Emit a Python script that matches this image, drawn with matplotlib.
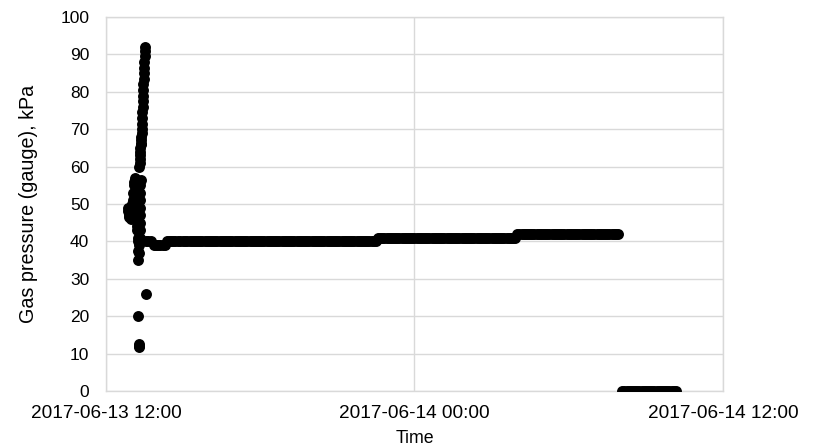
import pandas as pd
import matplotlib
matplotlib.use("Agg")
import matplotlib.pyplot as plt
import matplotlib.dates as mdates

plt.rcParams["font.family"] = ["Liberation Sans", "DejaVu Sans"]

# pressure readings around the filling spike: minutes after 12:00, kPa
spike_min = [51, 52, 53, 54, 55, 56, 57, 58, 59, 60, 61, 62,
             63, 64, 65, 66, 67, 68, 69, 70, 71,
             73, 74, 74.5, 75, 75.5, 76,
             76.5, 77, 77.5, 78, 78.3, 78.6, 79, 79.3, 79.6, 80, 80.3, 80.6, 81,
             72, 72.5, 73.5, 74.2,
             78, 78.5, 79, 79.5, 80, 80.5, 81, 81.5, 82, 82.5, 83,
             83.5, 84, 84.5, 85, 85.5, 86, 86.5, 87, 87.5, 88, 88.5, 89, 89.5, 90, 90.5, 91,
             93]
spike_val = [49, 48, 47, 46.5, 48, 49, 47, 46, 48, 50, 49, 47,
             51, 53, 55, 56, 57, 55, 52, 50, 47,
             44, 41, 37.5, 35, 20, 12.5,
             12, 11.8, 37, 39, 41, 43, 45, 47, 49, 51, 53, 55, 56.5,
             48, 46, 43, 40,
             60, 61, 62, 63, 64, 65, 66, 67, 68, 66, 69,
             70, 71.5, 73, 74.5, 76, 77.5, 79, 80.5, 82, 83.5, 85, 86.5, 88, 89.5, 91, 92,
             26]

# steady stretches: start, end, level (kPa), logged every 5 minutes
seg_start = ["2017-06-13 13:34", "2017-06-13 13:52", "2017-06-13 14:22",
             "2017-06-13 15:00", "2017-06-13 22:35", "2017-06-14 04:00",
             "2017-06-14 08:05"]
seg_end = ["2017-06-13 13:48", "2017-06-13 14:18", "2017-06-13 14:52",
           "2017-06-13 22:30", "2017-06-14 03:55", "2017-06-14 07:55",
           "2017-06-14 10:10"]
seg_level = [40, 39, 40, 40, 41, 42, 0]

t0 = pd.Timestamp("2017-06-13 12:00")
times = [t0 + pd.Timedelta(minutes=m) for m in spike_min]
values = list(spike_val)
for s, e, lvl in zip(seg_start, seg_end, seg_level):
    rng = pd.date_range(s, e, freq="5min")
    times += list(rng)
    values += [lvl] * len(rng)

fig = plt.figure(figsize=(8.17, 4.48), dpi=100)
ax = fig.add_axes([0.1297, 0.1272, 0.7552, 0.8348])

ax.scatter(times, values, s=62, color="black", zorder=3, linewidths=0)

ax.set_xlim(pd.Timestamp("2017-06-13 12:00"), pd.Timestamp("2017-06-14 12:00"))
ax.set_ylim(0, 100)
ax.set_yticks(range(0, 101, 10))
ax.xaxis.set_major_locator(mdates.HourLocator(byhour=[0, 12]))
ax.xaxis.set_major_formatter(mdates.DateFormatter("%Y-%m-%d %H:%M"))

ax.grid(True, color="#d9d9d9", linewidth=1)
ax.set_axisbelow(True)
for sp in ax.spines.values():
    sp.set_color("#d9d9d9")
    sp.set_linewidth(1)
ax.tick_params(length=0, colors="#000000")
ax.tick_params(axis="y", labelsize=12.5, pad=12)
ax.tick_params(axis="x", labelsize=13.7, pad=10)

ax.set_xlabel("Time", fontsize=12.8, labelpad=6)
ax.set_ylabel("Gas pressure (gauge), kPa", fontsize=14.2, labelpad=16)

fig.savefig("out.png", dpi=100)
